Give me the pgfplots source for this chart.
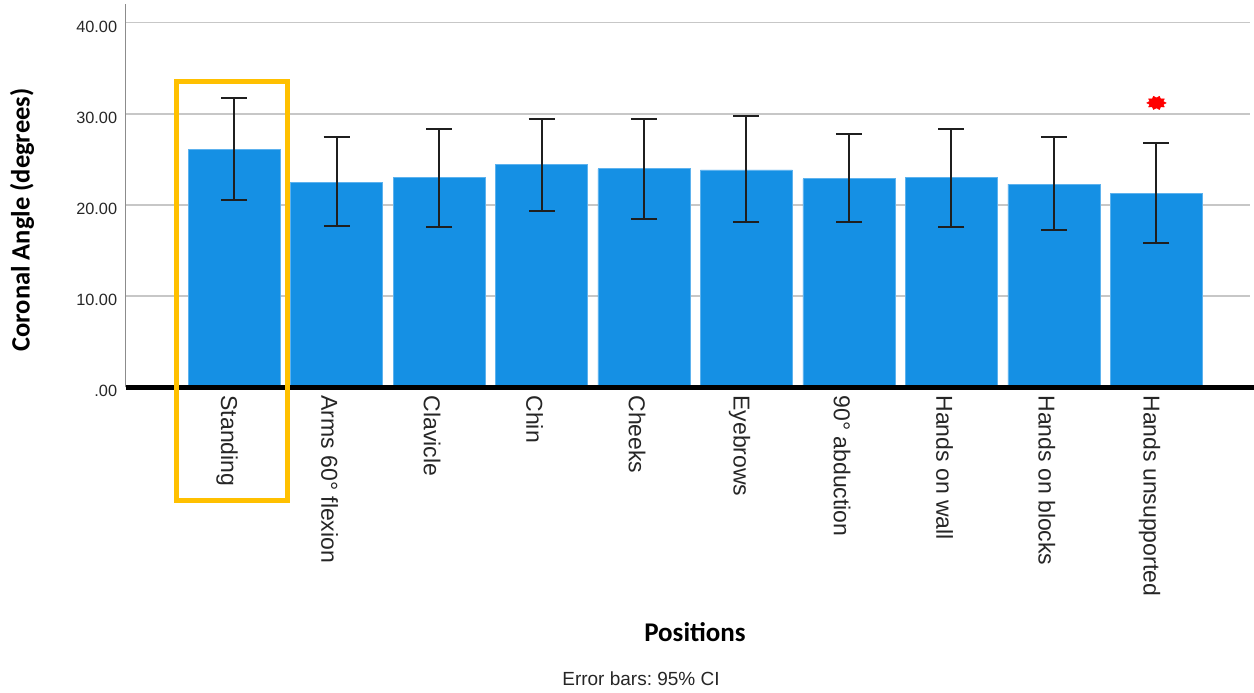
\documentclass[border=0pt]{standalone}
\usepackage{pgfplots}
\pgfplotsset{compat=1.18}
\usepackage{pgfplotstable}
\usepackage{fontspec}
\setmainfont{Liberation Sans}
\newfontfamily\calibri{Carlito}
\definecolor{barblue}{HTML}{1590E4}
\definecolor{baredge}{HTML}{5DB2EE}
\definecolor{boxyellow}{HTML}{FFC000}
\pgfdeclareplotmark{burst}{%
  \pgfpathmoveto{\pgfqpointpolar{0}{\pgfplotmarksize}}%
  \foreach \k in {1,...,19}{%
    \pgfmathsetmacro{\ang}{18*\k}%
    \pgfmathsetmacro{\rr}{mod(\k,2)==0 ? 1 : 0.72}%
    \pgfpathlineto{\pgfpointpolar{\ang}{\rr*\pgfplotmarksize}}%
  }%
  \pgfpathclose
  \pgfusepathqfillstroke
}
\pgfplotstableread{
x y ep em
0 26.10 5.60 5.50
1 22.50 4.94 4.83
2 22.98 5.37 5.38
3 24.40 5.05 5.05
4 23.96 5.49 5.49
5 23.85 5.93 5.71
6 22.87 4.93 4.73
7 22.98 5.37 5.38
8 22.30 5.17 5.03
9 21.27 5.51 5.40
}\bardata
\begin{document}
\begin{tikzpicture}
\useasboundingbox (-125.7bp,-305.7bp) rectangle (1128.3bp,387.3bp);
\begin{axis}[
  at={(0,0)}, anchor=south west,
  width=1124.3bp, height=383.3bp, scale only axis,
  xmin=-1.057, xmax=9.912, ymin=0, ymax=42.05,
  axis x line*=bottom, axis y line*=left,
  x axis line style={draw=none},
  y axis line style={draw=black!45, line width=1.3bp},
  ymajorgrids, grid style={draw=black!22, line width=1.4bp},
  ytick={0,10,20,30,40},
  yticklabels={.00,10.00,20.00,30.00,40.00},
  yticklabel style={font=\fontsize{16.3bp}{19bp}\selectfont, text=black!85, inner sep=0pt, xshift=-8.4bp, yshift=-4bp},
  ytick style={draw=none},
  xtick={0,...,9},
  xticklabels={Standing, Arms 60° flexion, Clavicle, Chin, Cheeks, Eyebrows, 90° abduction, Hands on wall, Hands on blocks, Hands unsupported},
  xticklabel style={font=\fontsize{23bp}{27bp}\selectfont, text=black!85, xshift=-7bp, yshift=-8bp, rotate=-90, anchor=west, inner sep=0pt},
  xtick style={draw=none},
  clip=false,
]
\addplot[ybar, bar width=92bp, fill=barblue, draw=baredge, line width=0.8bp,
  error bars/.cd, y dir=both, y explicit,
  error bar style={line width=2bp, draw=black!88},
  error mark options={rotate=90, mark size=13bp, line width=2bp, draw=black!88}]
  table[x=x, y=y, y error plus=ep, y error minus=em] {\bardata};
\addplot[only marks, mark=burst, mark size=7bp,
  mark options={fill=red, draw=red, xscale=1.4, line width=0.4bp}]
  coordinates {(9,31.2)};
\draw[black, line width=5bp] (rel axis cs:0,0) -- (rel axis cs:1.004,0);
\draw[boxyellow, line width=5bp] (axis cs:-0.561,33.57) rectangle (axis cs:0.522,-12.43);
\end{axis}
\node[rotate=90, font=\calibri\bfseries\fontsize{26.5bp}{30bp}\selectfont] at (-103.7bp,167.3bp) {Coronal Angle (degrees)};
\node[font=\calibri\bfseries\fontsize{27bp}{30bp}\selectfont] at (569.3bp,-244.4bp) {Positions};
\node[font=\fontsize{19bp}{22bp}\selectfont, text=black!85] at (515.3bp,-291.7bp) {Error bars:\ 95\% CI};
\end{tikzpicture}
\end{document}
